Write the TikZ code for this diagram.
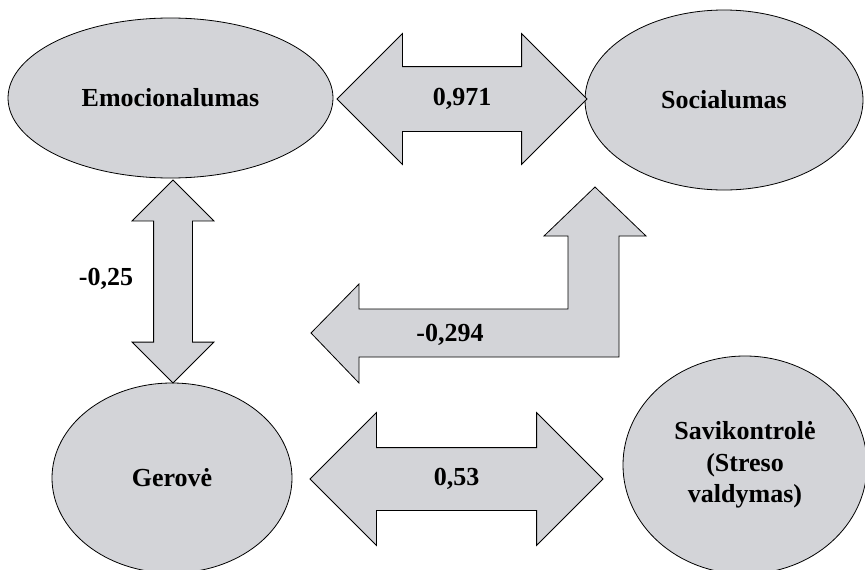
\documentclass[tikz,border=0pt]{standalone}
\usepackage{fontspec}
\setmainfont{Liberation Serif}
\usetikzlibrary{shapes.geometric,shapes.arrows}

\definecolor{shapegray}{RGB}{211,212,216}

\begin{document}
\begin{tikzpicture}[
  x=1pt, y=-1pt,
  every node/.style={font=\fontsize{26}{31.5}\selectfont\bfseries},
  trait/.style={ellipse, draw=black, line width=0.8pt, fill=shapegray, inner sep=0pt, align=center},
  link/.style={double arrow, draw=black, line width=0.8pt, fill=shapegray,
               double arrow tip angle=90},
  bent/.style={draw=black, line width=0.8pt, fill=shapegray, line join=miter},
]
\useasboundingbox (0,0) rectangle (865,570);

% ---------------- traits ----------------
\node[trait, minimum width=325pt, minimum height=160pt] (emo) at (170.5,98) {Emocionalumas};
\node[trait, minimum width=278pt, minimum height=180pt] (soc) at (724,100) {Socialumas};
\node[trait, minimum width=240pt, minimum height=190pt] (ger) at (172,478) {Gerovė};
\node[trait, minimum width=244pt, minimum height=218pt] (sav) at (745,465)
   {Savikontrolė\\(Streso\\valdymas)};

% ---------------- correlations ----------------
\node[link, inner sep=32pt, minimum height=250pt, double arrow head extend=33pt]
   (emosoc) at (462,99) {};
\node at (emosoc) {0,971};
\node[link, shape border rotate=90, inner sep=19pt, minimum height=203pt,
      double arrow head extend=21.5pt] (emoger) at (173,281.5) {};
\node (emogerlbl) at (106,279) {-0,25};
\node[link, inner sep=31pt, minimum height=293pt, double arrow head extend=35pt]
   (gersav) at (456.5,479) {};
\node at (gersav) {0,53};

% bent arrow: socialumas -> gerove
\draw[bent] (311,333) -- (359,284) -- (359,309) -- (568,309) -- (568,236) -- (544,236)
   -- (595,187) -- (646,236) -- (619,236) -- (619,357) -- (359,357) -- (359,383) -- cycle;
\node (socgerlbl) at (450,335) {-0,294};
\end{tikzpicture}
\end{document}
